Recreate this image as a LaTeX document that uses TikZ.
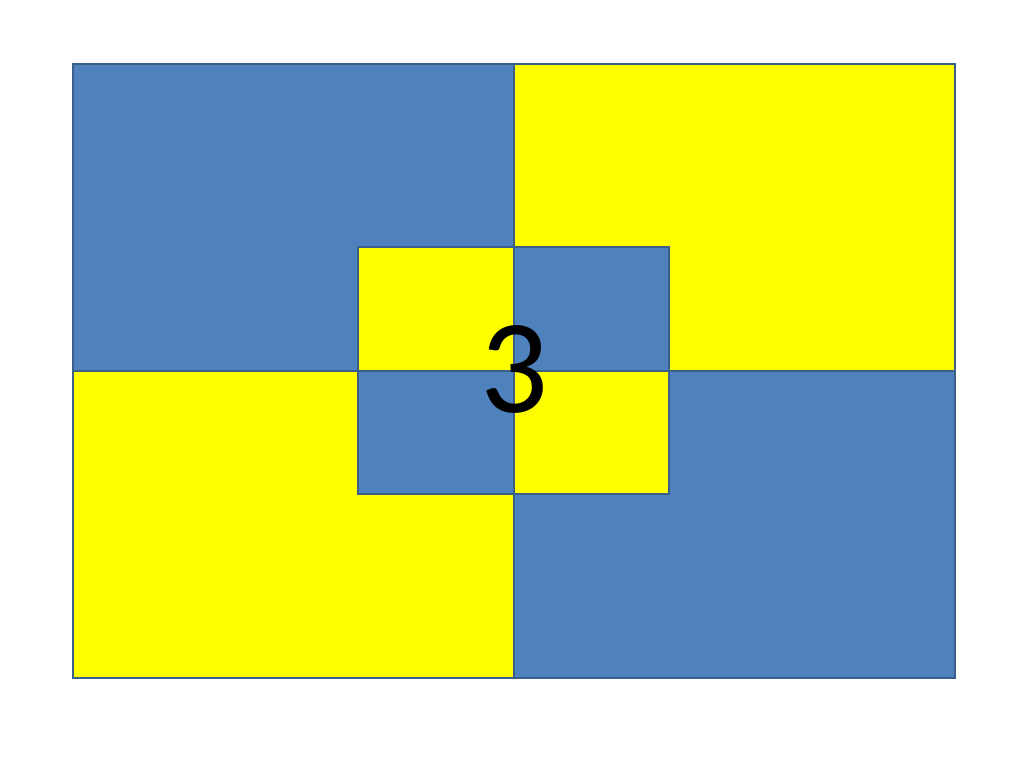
\documentclass[tikz,border=0pt]{standalone}
\usepackage{fontspec}
\newfontfamily\digitfont{Carlito}
\definecolor{qblue}{HTML}{4F81BD}
\definecolor{qyellow}{HTML}{FFFF00}
\definecolor{qedge}{HTML}{3A5F8B}
\begin{document}
\begin{tikzpicture}[x=1pt,y=-1pt,
  blueq/.style={fill=qblue,draw=qedge,line width=2pt},
  yellowq/.style={fill=qyellow,draw=qedge,line width=2pt}]
\useasboundingbox (0,0) rectangle (1024,768);
\fill[white] (0,0) rectangle (1024,768);
% outer quadrants
\draw[blueq] (73,64) rectangle (514,371);
\draw[yellowq] (514,64) rectangle (955,371);
\draw[yellowq] (73,371) rectangle (514,678);
\draw[blueq] (514,371) rectangle (955,678);
% inner quadrants
\draw[yellowq] (358,247) rectangle (514,371);
\draw[blueq] (514,247) rectangle (669,371);
\draw[blueq] (358,371) rectangle (514,494);
\draw[yellowq] (514,371) rectangle (669,494);
\node[anchor=base, inner sep=0pt, font=\digitfont\fontsize{134}{134}\selectfont] (num) at (514,412) {3};
\end{tikzpicture}
\end{document}
